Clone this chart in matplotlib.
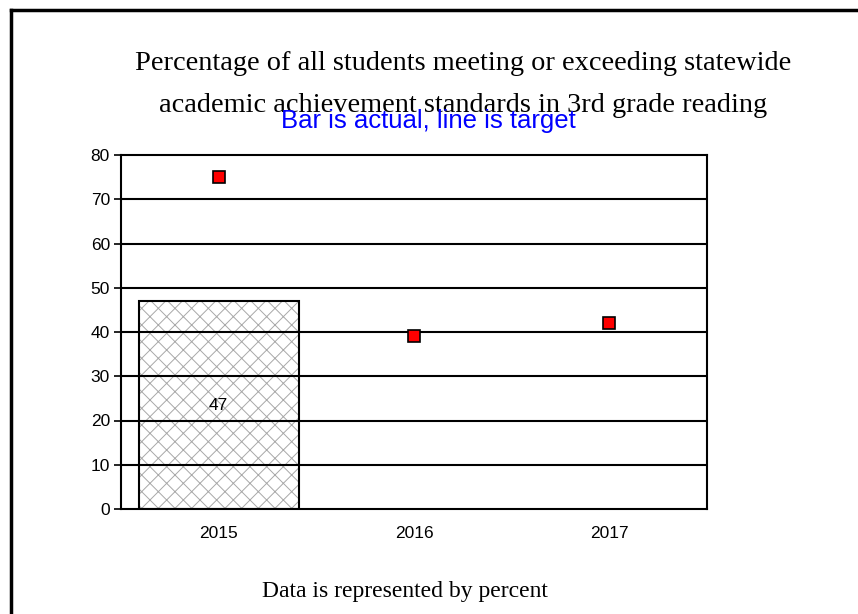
import matplotlib
matplotlib.use("Agg")
import matplotlib.pyplot as plt
from matplotlib.lines import Line2D

years = ["2015", "2016", "2017"]
actual = [47, None, None]
target = [75, 39, 42]
yticks = [0, 10, 20, 30, 40, 50, 60, 70, 80]

plt.rcParams['hatch.linewidth'] = 0.7

fig = plt.figure(figsize=(8.58, 6.14), dpi=100)
ax = fig.add_axes([121/858, 105/614, 586/858, 354/614])

# figure frame (top and left)
fig.add_artist(Line2D([11/858, 11/858], [0, 1 - 10/614], transform=fig.transFigure, color='black', lw=2.5))
fig.add_artist(Line2D([11/858, 1], [1 - 10/614, 1 - 10/614], transform=fig.transFigure, color='black', lw=2.5))

x = list(range(len(years)))
for i, v in enumerate(actual):
    if v is not None:
        ax.bar(i, v, width=0.82, facecolor='white', edgecolor='#a8a8a8', hatch='xx', linewidth=0, zorder=1)
        ax.bar(i, v, width=0.82, facecolor='none', edgecolor='black', linewidth=1.5, zorder=3)
        ax.text(i, v / 2, str(v), ha='center', va='center', fontsize=12.5, family='Liberation Sans', zorder=4)

for yv in yticks[1:-1]:
    ax.axhline(yv, color='black', lw=1.5, zorder=2)

ax.plot(x, target, linestyle='none', marker='s', markersize=8.5, markerfacecolor='#ff0000',
        markeredgecolor='black', markeredgewidth=1.2, zorder=5)

ax.set_xlim(-0.5, 2.5)
ax.set_ylim(0, 80)
ax.set_yticks(yticks)
ax.set_xticks(x)
ax.set_xticklabels(years)
for s in ax.spines.values():
    s.set_linewidth(1.5)
ax.tick_params(axis='x', length=0, pad=12, labelsize=12.5)
ax.tick_params(axis='y', length=5, width=1.2, pad=3, labelsize=12.5)
for lab in ax.get_xticklabels() + ax.get_yticklabels():
    lab.set_family('Liberation Sans')

fig.text(463/858, 1 - 63/614, "Percentage of all students meeting or exceeding statewide",
         ha='center', va='center', fontsize=20.4, family='Liberation Serif')
fig.text(463/858, 1 - 105/614, "academic achievement standards in 3rd grade reading",
         ha='center', va='center', fontsize=20.4, family='Liberation Serif')
fig.text(428/858, 1 - 121/614, "Bar is actual, line is target",
         ha='center', va='center', fontsize=18.5, family='Liberation Sans', color='#0000ff')
fig.text(405/858, 1 - 592/614, "Data is represented by percent",
         ha='center', va='center', fontsize=17, family='Liberation Serif')

fig.savefig("out.png", dpi=100)
